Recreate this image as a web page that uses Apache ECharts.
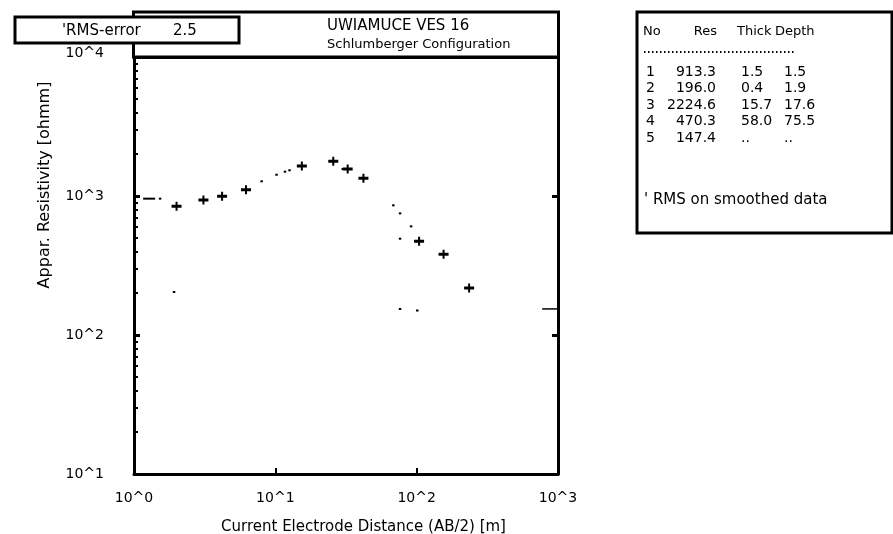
<!DOCTYPE html>
<html><head><meta charset="utf-8">
<script src="https://cdn.jsdelivr.net/npm/echarts@6/dist/echarts.min.js"></script>
<style>html,body{margin:0;padding:0;background:#fff}#c{width:893px;height:534px}</style>
</head><body><div id="c"></div>
<script>
// ---- texts ----
const titleLines = ['UWIAMUCE VES 16', 'Schlumberger Configuration'];
const xAxisTitle = 'Current Electrode Distance (AB/2) [m]';
const yAxisTitle = 'Appar. Resistivity [ohmm]';
const rmsLabel = "'RMS-error";
const rmsValue = '2.5';
// ---- axes ----
const xTickValues = [1, 10, 100, 1000];
const xTickLabels = ['10^0', '10^1', '10^2', '10^3'];
const yTickValues = [10, 100, 1000, 10000];
const yTickLabels = ['10^1', '10^2', '10^3', '10^4'];
const yMinorTicks = [20, 30, 40, 50, 60, 70, 80, 90,
                     200, 300, 400, 500, 600, 700, 800, 900,
                     2000, 3000, 4000, 5000, 6000, 7000, 8000, 9000];
// ---- field data (plus markers) ----
const fieldAB2 = [2.0, 3.1, 4.2, 6.2, 15.4, 25.7, 32.5, 42, 104, 155, 235];
const fieldRho = [843, 936, 995, 1109, 1643, 1778, 1563, 1340, 472, 381, 218];
// ---- small dots ----
const curveAB2 = [1.53, 8.0, 10.2, 11.7, 12.6, 30.0, 68.4, 76.3, 91.3, 76.3, 1.92, 76.3, 101];
const curveRho = [957, 1276, 1422, 1496, 1531, 1563, 857, 750, 605, 493, 204, 154, 150];
const leftDashAB2 = [1.28];
const leftDashRho = [957];
const rightDashAB2 = [887];
const rightDashRho = [154];
// ---- layer table ----
const tableHeader = ['No', 'Res', 'Thick', 'Depth'];
const layerNo = ['1', '2', '3', '4', '5'];
const layerRes = ['913.3', '196.0', '2224.6', '470.3', '147.4'];
const layerThick = ['1.5', '0.4', '15.7', '58.0', '..'];
const layerDepth = ['1.5', '1.9', '17.6', '75.5', '..'];
const tableNote = "' RMS on smoothed data";

const FONT = 'DejaVu Sans';
const zip = (a, b) => a.map((v, i) => [v, b[i]]);
const lbl = (vals, labels, topRich) => v => {
  const i = vals.findIndex(t => Math.abs(t - v) / t < 1e-6);
  if (i < 0) return '';
  return (topRich && i === vals.length - 1) ? '{up|' + labels[i] + '}' : labels[i];
};

const graphic = [];
// title box
graphic.push({type: 'rect', shape: {x: 133.5, y: 12, width: 425, height: 45}, style: {fill: '#fff', stroke: '#000', lineWidth: 3}, z: 1});
titleLines.forEach((t, i) => graphic.push({type: 'text', x: 327, y: i === 0 ? 26 : 45, style: {text: t, font: (i === 0 ? '15px ' : '13px ') + FONT, fill: '#000', align: 'left', verticalAlign: 'middle'}, z: 2}));
// RMS box
graphic.push({type: 'rect', shape: {x: 15, y: 17, width: 224, height: 26}, style: {fill: '#fff', stroke: '#000', lineWidth: 3}, z: 10});
graphic.push({type: 'text', x: 62, y: 31, style: {text: rmsLabel, font: '15px ' + FONT, fill: '#000', verticalAlign: 'middle'}, z: 11});
graphic.push({type: 'text', x: 173, y: 31, style: {text: rmsValue, font: '15px ' + FONT, fill: '#000', verticalAlign: 'middle'}, z: 11});
// y axis title
graphic.push({type: 'text', x: 45, y: 185, rotation: Math.PI / 2, style: {text: yAxisTitle, font: '16px ' + FONT, fill: '#000', align: 'center', verticalAlign: 'middle'}, z: 5});
// table box
graphic.push({type: 'rect', shape: {x: 637, y: 12, width: 255, height: 221}, style: {fill: '#fff', stroke: '#000', lineWidth: 3}, z: 1});
const headX = [643, 717, 737, 775];
const headAlign = ['left', 'right', 'left', 'left'];
tableHeader.forEach((h, j) => graphic.push({type: 'text', x: headX[j], y: 32, style: {text: h, font: '13px ' + FONT, fill: '#000', align: headAlign[j], verticalAlign: 'middle'}, z: 2}));
graphic.push({type: 'line', shape: {x1: 644, y1: 52, x2: 795, y2: 52}, style: {stroke: '#000', lineWidth: 2, lineDash: [1.5, 2.5]}, z: 2});
const rowColX = [646, 716, 741, 784];
const rowAlign = ['left', 'right', 'left', 'left'];
const rowY = [72, 88.5, 105, 121.5, 138];
[layerNo, layerRes, layerThick, layerDepth].forEach((col, j) => col.forEach((v, i) => graphic.push({type: 'text', x: rowColX[j], y: rowY[i], style: {text: v, font: '14px ' + FONT, fill: '#000', align: rowAlign[j], verticalAlign: 'middle'}, z: 2})));
graphic.push({type: 'text', x: 644, y: 200, style: {text: tableNote, font: '15px ' + FONT, fill: '#000', verticalAlign: 'middle'}, z: 2});

const axisLine = {show: true, lineStyle: {color: '#000', width: 3}};
const option = {
  backgroundColor: '#fff',
  animation: false,
  grid: {left: 134, right: 335, top: 57, bottom: 60, outerBoundsMode: 'none', containLabel: false},
  xAxis: [{
    type: 'log', logBase: 10, min: 1, max: 1000, position: 'bottom',
    axisLine,
    axisTick: {show: true, inside: true, length: 6, lineStyle: {color: '#000', width: 2}},
    splitLine: {show: false},
    axisLabel: {show: true, formatter: lbl(xTickValues, xTickLabels, false), margin: 17, fontFamily: FONT, fontSize: 14, color: '#000', showMinLabel: true, showMaxLabel: true},
    name: xAxisTitle, nameLocation: 'middle', nameGap: 46,
    nameTextStyle: {fontFamily: FONT, fontSize: 15, color: '#000', padding: [0, 0, 0, 35]}
  }, {
    type: 'log', logBase: 10, min: 1, max: 1000, position: 'top',
    axisLine, axisTick: {show: false}, axisLabel: {show: false}, splitLine: {show: false}
  }],
  yAxis: [{
    type: 'log', logBase: 10, min: 10, max: 10000, position: 'left',
    axisLine,
    axisTick: {show: true, inside: true, length: 6, lineStyle: {color: '#000', width: 3}},
    splitLine: {show: false},
    axisLabel: {show: true, formatter: lbl(yTickValues, yTickLabels, true), margin: 30, fontFamily: FONT, fontSize: 14, color: '#000', showMinLabel: true, showMaxLabel: true,
      rich: {up: {fontFamily: FONT, fontSize: 14, color: '#000', padding: [0, 0, 8, 0]}}}
  }, {
    type: 'log', logBase: 10, min: 10, max: 10000, position: 'left',
    axisLine: {show: false},
    axisTick: {show: true, inside: true, length: 4, customValues: yMinorTicks, lineStyle: {color: '#000', width: 2}},
    axisLabel: {show: false}, splitLine: {show: false}
  }, {
    type: 'log', logBase: 10, min: 10, max: 10000, position: 'right',
    axisLine,
    axisTick: {show: true, inside: true, length: 6, lineStyle: {color: '#000', width: 3}},
    axisLabel: {show: false}, splitLine: {show: false}
  }],
  graphic,
  series: [{
    name: 'Field data', type: 'scatter', xAxisIndex: 0, yAxisIndex: 0,
    data: zip(fieldAB2, fieldRho),
    symbol: 'path://M0,3h10v3h-10z M4,0h2v9h-2z', symbolSize: [10, 9],
    itemStyle: {color: '#000', opacity: 1}, z: 5
  }, {
    name: 'Dots', type: 'scatter', xAxisIndex: 0, yAxisIndex: 0,
    data: zip(curveAB2, curveRho),
    symbol: 'rect', symbolSize: [2.5, 2],
    itemStyle: {color: '#000', opacity: 1}, z: 5
  }, {
    name: 'Left dash', type: 'scatter', xAxisIndex: 0, yAxisIndex: 0,
    data: zip(leftDashAB2, leftDashRho),
    symbol: 'rect', symbolSize: [12, 2],
    itemStyle: {color: '#000', opacity: 1}, z: 5
  }, {
    name: 'Right dash', type: 'scatter', xAxisIndex: 0, yAxisIndex: 0,
    data: zip(rightDashAB2, rightDashRho),
    symbol: 'rect', symbolSize: [17, 1.5],
    itemStyle: {color: '#000', opacity: 1}, z: 5
  }]
};
const chart = echarts.init(document.getElementById('c'), null, {renderer: 'canvas'});
chart.setOption(option);
</script></body></html>
